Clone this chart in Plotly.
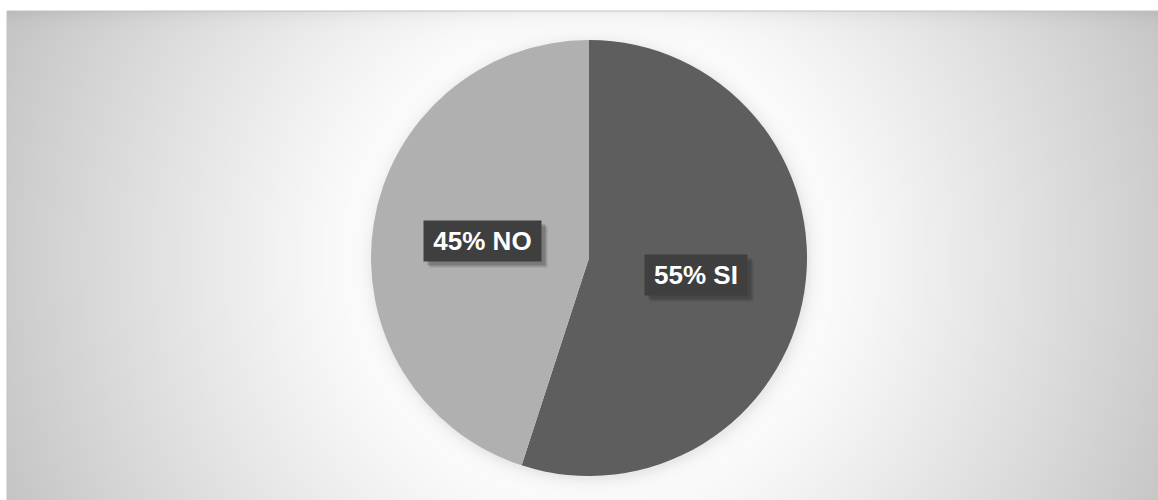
import numpy as np
import plotly.graph_objects as go

# Survey answers
labels = ["SI", "NO"]
values = [55, 45]
slice_colors = ["#5e5e5e", "#b0b0b0"]

W, H = 1158, 500
panel_left, panel_top = 7, 11
cx, cy, R = 589, 258, 218  # pie centre / radius in pixels

# ---- background: soft radial gradient + pie shadow, drawn as a smooth heatmap
xs = np.arange(panel_left, W + 4, 3, dtype=float)
ys = np.arange(panel_top, H + 4, 3, dtype=float)
X, Y = np.meshgrid(xs, ys)
r = np.hypot(X - cx, Y - cy)
t = np.clip((r - 200) / 440.0, 0, 1) ** 1.1
shade = 255 - 60 * t
shade -= 12 * np.exp(-(Y - panel_top) / 8.0)
rs = np.hypot(X - cx - 1, Y - cy - 2)
shade -= np.where(rs > R - 4, 20 * np.exp(-np.clip(rs - R, 0, None) / 7.0), 0)
shade = np.round(np.clip(shade, 0, 255))

fig = go.Figure()
fig.add_trace(go.Heatmap(
    x=xs, y=ys, z=shade, zmin=0, zmax=255, zsmooth="best",
    colorscale=[[0, "rgb(0,0,0)"], [1, "rgb(255,255,255)"]],
    showscale=False, hoverinfo="skip",
))

# ---- pie
dom_x = [(cx - R) / W, (cx + R) / W]
dom_y = [1 - (cy + R) / H, 1 - (cy - R) / H]
fig.add_trace(go.Pie(
    labels=labels, values=values, sort=False, direction="clockwise", rotation=0,
    marker=dict(colors=slice_colors, line=dict(width=0)),
    textinfo="none", hoverinfo="label+percent", showlegend=False,
    domain=dict(x=dom_x, y=dom_y),
))

# ---- boxed labels placed at the middle angle of each slice
total = sum(values)
start = 0.0
label_font = dict(family="Liberation Sans, Arial", size=26, color="white", weight="bold")
box_w = {"NO": 107, "SI": 92}
for lab, v in zip(labels, values):
    frac = v / total
    mid = np.deg2rad((start + frac / 2) * 360)
    start += frac
    px = cx + 0.495 * R * np.sin(mid)
    py = cy - 0.495 * R * np.cos(mid)
    text = f"{round(frac * 100)}% {lab}"
    # soft drop shadow (two layers, no text)
    for off, alpha in ((6, 0.15), (4, 0.25)):
        fig.add_annotation(
            x=(px + off) / W, y=1 - (py + off) / H, xref="paper", yref="paper",
            text=" ", showarrow=False, width=box_w[lab], height=30,
            bgcolor=f"rgba(30,30,30,{alpha})", borderpad=5,
        )
    fig.add_annotation(
        x=px / W, y=1 - py / H, xref="paper", yref="paper",
        text=text, showarrow=False, font=label_font, width=box_w[lab], height=30,
        bgcolor="#3f3f3f", borderpad=5,
    )

# ---- panel frame
fig.add_shape(type="rect", xref="paper", yref="paper",
              x0=panel_left / W, x1=1.01, y0=-0.01, y1=1 - panel_top / H,
              line=dict(color="#c2c2c2", width=1), fillcolor="rgba(0,0,0,0)", layer="above")

fig.update_layout(
    width=W, height=H, margin=dict(l=0, r=0, t=0, b=0),
    paper_bgcolor="white", plot_bgcolor="white",
    xaxis=dict(domain=[panel_left / W, 1], range=[panel_left, W], visible=False, fixedrange=True),
    yaxis=dict(domain=[0, 1 - panel_top / H], range=[H, panel_top], visible=False, fixedrange=True),
)

fig.write_html("out.html")
